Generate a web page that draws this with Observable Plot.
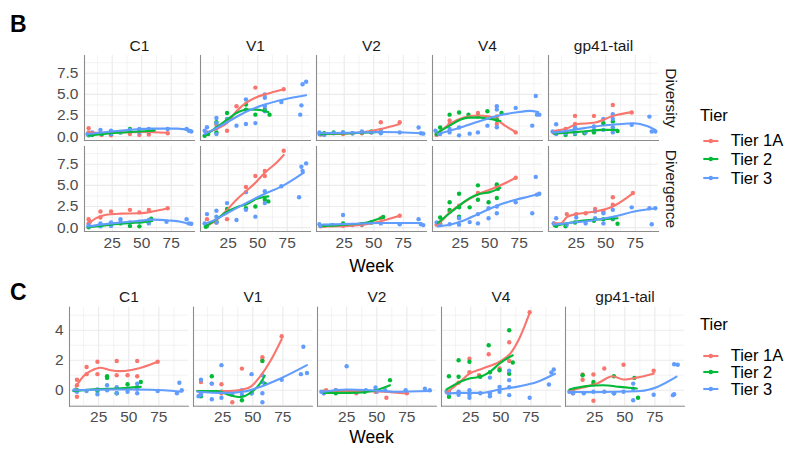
<!DOCTYPE html>
<html><head><meta charset="utf-8">
<script src="https://cdn.jsdelivr.net/npm/d3@7"></script>
<script src="https://cdn.jsdelivr.net/npm/@observablehq/plot@0.6"></script>
<style>
body{margin:0;background:#fff;font-family:"Liberation Sans",Arial,Helvetica,sans-serif;}
#root{position:relative;width:788px;height:449px;overflow:hidden;background:#fff;}
.abs{position:absolute;white-space:nowrap;}
.letter{font-weight:bold;font-size:23px;line-height:26px;color:#000;}
.xtitle{font-size:17.5px;line-height:20px;color:#000;transform:translateX(-50%);}
.ltitle{font-size:16.5px;line-height:18px;color:#000;}
.ltext{font-size:16.5px;line-height:18px;color:#000;}
svg.plot{position:absolute;left:0;}
</style></head>
<body><div id="root"></div>
<script>
const regions = ["C1","V1","V2","V4","gp41-tail"];
const measures = ["Diversity","Divergence"];
const tiers = ["Tier 1A","Tier 2","Tier 3"];
const tierColors = ["#F8766D","#00BA38","#619CFF"];
const xTicks = [25,50,75];
const xMinor = [12.5,37.5,62.5,87.5];
const yTicksB = [0,2.5,5,7.5];
const yMinorB = [1.25,3.75,6.25,8.75];
const yTicksC = [0,2,4];
const yMinorC = [-1,1,3,5];
const G = "gp41-tail";

// ---- Panel B: Diversity points ----
const divPtsT1A = [
 ["C1",5,1.0],["C1",5,0.5],["C1",16,0.2],["C1",24,0.15],["C1",40,0.3],["C1",48,0.2],["C1",56,0.25],["C1",72,0.4],
 ["V1",7,0.5],["V1",15,1.4],["V1",24,0.7],["V1",32,3.6],["V1",48,5.8],["V1",72,5.6],
 ["V2",5,0.25],["V2",8,0.3],["V2",24,0.3],["V2",40,0.4],["V2",48,0.5],["V2",56,1.7],["V2",72,1.7],
 ["V4",5,0.2],["V4",8,0.4],["V4",16,1.9],["V4",16,1.5],["V4",40,2.8],["V4",56,2.4],["V4",56,1.5],["V4",72,0.5],
 [G,6,0.5],[G,16,0.9],[G,24,2.45],[G,24,1.5],[G,40,2.45],[G,48,1.5],[G,56,3.75],[G,72,2.85]
];
const divPtsT2 = [
 ["C1",5,0.15],["C1",8,0.2],["C1",16,0.3],["C1",24,0.3],["C1",32,0.5],["C1",40,0.9],["C1",48,0.6],["C1",56,0.6],["C1",60,0.7],
 ["V1",5,0.1],["V1",8,0.3],["V1",15,0.5],["V1",15,1.7],["V1",24,2.8],["V1",40,3.8],["V1",40,3.2],["V1",48,2.6],["V1",56,3.2],["V1",60,2.6],
 ["V2",5,0.3],["V2",8,0.4],["V2",16,0.5],["V2",24,0.5],["V2",32,0.4],["V2",40,0.5],["V2",48,0.6],["V2",56,0.5],
 ["V4",5,0.3],["V4",8,1.07],["V4",16,2.6],["V4",24,2.85],["V4",32,2.6],["V4",40,2.4],["V4",48,3.0],["V4",56,2.0],["V4",60,2.8],
 [G,8,0.4],[G,16,0.2],[G,24,0.3],[G,24,1.0],[G,32,0.4],[G,40,0.5],[G,48,1.6],[G,56,1.8],[G,60,0.67]
];
const divPtsT3 = [
 ["C1",4,0.3],["C1",5,0.2],["C1",8,0.5],["C1",15,0.4],["C1",15,0.8],["C1",24,0.7],["C1",24,0.3],["C1",32,0.5],["C1",40,0.8],["C1",48,0.9],["C1",48,0.5],["C1",56,0.9],["C1",56,0.6],["C1",72,0.9],["C1",88,0.9],["C1",90,0.7],["C1",92,0.6],
 ["V1",5,0.7],["V1",7,1.1],["V1",15,2.2],["V1",15,1.6],["V1",15,1.0],["V1",15,0.3],["V1",24,2.1],["V1",32,1.3],["V1",40,4.4],["V1",40,1.5],["V1",48,1.6],["V1",56,5.0],["V1",56,4.6],["V1",56,3.6],["V1",56,3.0],["V1",70,4.1],["V1",86,2.6],["V1",87,3.7],["V1",88,6.2],["V1",91,6.5],
 ["V2",4,0.5],["V2",4,0.3],["V2",8,0.2],["V2",16,0.4],["V2",24,0.5],["V2",32,0.4],["V2",40,0.6],["V2",48,0.5],["V2",56,0.8],["V2",56,0.4],["V2",72,0.5],["V2",88,1.07],["V2",90,0.4],["V2",92,0.35],
 ["V4",4,0.7],["V4",8,0.3],["V4",16,0.5],["V4",16,0.9],["V4",24,0.15],["V4",24,1.07],["V4",33,0.35],["V4",40,0.5],["V4",48,1.3],["V4",56,3.6],["V4",56,3.2],["V4",56,1.1],["V4",72,3.4],["V4",86,1.3],["V4",89,4.8],["V4",90,2.6],["V4",92,2.6],
 [G,5,0.6],[G,8,1.46],[G,8,0.3],[G,16,0.4],[G,24,1.07],[G,24,0.4],[G,33,0.5],[G,40,0.8],[G,40,1.2],[G,48,2.1],[G,48,0.8],[G,56,2.65],[G,56,2.1],[G,56,1.1],[G,56,0.5],[G,72,1.4],[G,87,2.37],[G,89,0.6],[G,92,0.6]
];
// ---- Panel B: Diversity smooth curves ----
const divFitT1A = [
 ["C1",5,0.55],["C1",12,0.45],["C1",30,0.5],["C1",50,0.55],["C1",72,0.45],
 ["V1",7,0.5],["V1",15,0.9],["V1",24,1.6],["V1",32,3.0],["V1",40,4.0],["V1",48,4.6],["V1",56,5.0],["V1",64,5.3],["V1",72,5.6],
 ["V2",5,0.3],["V2",24,0.35],["V2",40,0.5],["V2",56,0.9],["V2",72,1.5],
 ["V4",6,0.3],["V4",16,1.5],["V4",28,2.25],["V4",40,2.5],["V4",49,2.4],["V4",57,1.9],["V4",64,1.2],["V4",72,0.55],
 [G,6,0.67],[G,17,0.95],[G,25,1.46],[G,41,1.66],[G,56,2.45],[G,72,2.9]
];
const divFitT2 = [
 ["C1",5,0.15],["C1",20,0.35],["C1",40,0.55],["C1",60,0.7],
 ["V1",5,0.1],["V1",15,1.1],["V1",24,2.0],["V1",32,2.8],["V1",41,3.2],["V1",49,3.2],["V1",59,2.9],
 ["V2",5,0.3],["V2",30,0.4],["V2",57,0.55],
 ["V4",6,0.5],["V4",16,1.3],["V4",25,2.0],["V4",32,2.25],["V4",42,2.25],["V4",50,2.1],["V4",59,1.85],
 [G,6,0.35],[G,17,0.47],[G,31,0.6],[G,48,0.8],[G,60,0.8]
];
const divFitT3 = [
 ["C1",4,0.3],["C1",20,0.55],["C1",40,0.8],["C1",60,0.95],["C1",80,0.95],["C1",92,0.75],
 ["V1",5,0.3],["V1",15,1.0],["V1",24,1.7],["V1",41,3.0],["V1",56,3.8],["V1",72,4.4],["V1",91,4.9],
 ["V2",4,0.4],["V2",30,0.45],["V2",56,0.55],["V2",92,0.4],
 ["V4",6,0.3],["V4",16,0.7],["V4",28,1.2],["V4",40,1.75],["V4",56,2.45],["V4",72,2.85],["V4",84,3.05],["V4",91,2.9],
 [G,6,0.47],[G,23,0.8],[G,41,1.2],[G,60,1.46],[G,74,1.58],[G,85,1.26],[G,92,0.8]
];
// ---- Panel B: Divergence points ----
const dvgPtsT1A = [
 ["C1",5,1.0],["C1",5,0.5],["C1",6,0.7],["C1",15,1.9],["C1",15,1.2],["C1",24,1.9],["C1",40,2.1],["C1",48,1.8],["C1",56,2.1],["C1",72,2.3],
 ["V1",7,1.0],["V1",15,0.6],["V1",24,1.0],["V1",40,4.8],["V1",48,6.1],["V1",56,6.7],["V1",56,6.1],["V1",72,9.1],
 ["V2",5,0.15],["V2",8,0.2],["V2",24,0.2],["V2",40,0.3],["V2",56,1.1],["V2",72,1.4],
 ["V4",5,0.35],["V4",8,0.3],["V4",16,1.9],["V4",24,2.6],["V4",40,4.1],["V4",56,4.9],["V4",72,5.9],
 [G,6,0.5],[G,8,0.3],[G,17,1.6],[G,25,1.6],[G,33,1.7],[G,41,2.2],[G,48,1.9],[G,56,3.6],[G,56,2.7],[G,73,4.1]
];
const dvgPtsT2 = [
 ["C1",5,0.05],["C1",15,0.2],["C1",24,0.35],["C1",32,0.5],["C1",40,0.2],["C1",48,0.15],["C1",56,0.6],["C1",58,1.05],
 ["V1",6,0.1],["V1",7,0.2],["V1",15,0.7],["V1",24,2.2],["V1",40,2.3],["V1",48,2.5],["V1",56,3.3],["V1",59,3.1],
 ["V2",5,0.2],["V2",15,0.3],["V2",24,0.5],["V2",40,0.4],["V2",48,0.6],["V2",58,1.25],
 ["V4",8,1.2],["V4",8,0.5],["V4",16,3.0],["V4",16,2.1],["V4",24,4.0],["V4",24,2.4],["V4",24,1.3],["V4",33,2.4],["V4",40,5.0],["V4",40,3.3],["V4",49,3.0],["V4",56,5.1],["V4",57,4.6],["V4",56,3.5],
 [G,8,0.2],[G,16,0.15],[G,24,0.6],[G,40,0.8],[G,48,1.0],[G,56,1.0],[G,60,0.45]
];
const dvgPtsT3 = [
 ["C1",5,0.15],["C1",5,0.3],["C1",15,0.5],["C1",15,0.15],["C1",24,0.6],["C1",24,0.2],["C1",32,0.6],["C1",32,1.0],["C1",40,0.6],["C1",48,0.7],["C1",56,0.9],["C1",56,0.5],["C1",71,0.7],["C1",88,1.0],["C1",90,0.5],["C1",92,0.45],
 ["V1",5,0.5],["V1",7,1.6],["V1",15,2.0],["V1",15,1.3],["V1",15,0.6],["V1",24,2.9],["V1",32,0.9],["V1",40,4.2],["V1",40,2.1],["V1",48,1.3],["V1",56,4.3],["V1",56,2.9],["V1",70,4.9],["V1",85,3.6],["V1",87,7.2],["V1",88,6.7],["V1",91,7.6],
 ["V2",4,0.4],["V2",5,0.2],["V2",15,0.3],["V2",24,1.5],["V2",32,0.3],["V2",40,0.4],["V2",48,0.6],["V2",56,0.5],["V2",72,0.4],["V2",88,1.0],["V2",90,0.4],["V2",92,0.3],
 ["V4",5,0.6],["V4",8,0.35],["V4",16,0.4],["V4",24,1.1],["V4",24,0.35],["V4",33,0.65],["V4",40,1.6],["V4",40,0.5],["V4",49,2.3],["V4",49,1.1],["V4",56,2.5],["V4",56,1.7],["V4",72,3.0],["V4",86,1.7],["V4",89,6.0],["V4",90,3.9],["V4",92,4.0],
 [G,6,0.5],[G,8,1.1],[G,17,0.35],[G,25,1.2],[G,33,0.5],[G,41,1.9],[G,41,1.1],[G,48,1.7],[G,48,0.5],[G,56,2.1],[G,56,1.1],[G,72,2.4],[G,87,2.3],[G,89,0.4],[G,92,2.3]
];
// ---- Panel B: Divergence smooth curves ----
const dvgFitT1A = [
 ["C1",6,0.6],["C1",11,1.1],["C1",19,1.5],["C1",32,1.65],["C1",48,1.7],["C1",59,1.9],["C1",72,2.3],
 ["V1",7,0.2],["V1",15,0.9],["V1",24,2.1],["V1",32,3.3],["V1",40,4.3],["V1",48,5.3],["V1",56,6.5],["V1",66,7.7],["V1",72,8.6],
 ["V2",7,0.15],["V2",27,0.2],["V2",44,0.4],["V2",56,0.75],["V2",72,1.4],
 ["V4",6,0.3],["V4",12,1.2],["V4",17,1.9],["V4",25,2.7],["V4",33,3.4],["V4",41,4.0],["V4",56,4.8],["V4",72,5.9],
 [G,6,0.5],[G,12,0.5],[G,17,1.25],[G,25,1.6],[G,41,1.9],[G,56,2.5],[G,73,4.05]
];
const dvgFitT2 = [
 ["C1",5,0.05],["C1",15,0.2],["C1",32,0.45],["C1",48,0.6],["C1",59,0.8],
 ["V1",6,0.15],["V1",15,1.0],["V1",24,1.9],["V1",32,2.4],["V1",41,2.8],["V1",49,3.4],["V1",59,3.7],
 ["V2",7,0.2],["V2",27,0.35],["V2",44,0.6],["V2",58,1.25],
 ["V4",6,0.55],["V4",16,1.7],["V4",25,2.7],["V4",33,3.5],["V4",42,4.0],["V4",50,4.2],["V4",59,4.7],
 [G,6,0.2],[G,17,0.5],[G,31,0.85],[G,48,1.0],[G,60,1.1]
];
const dvgFitT3 = [
 ["C1",5,0.15],["C1",15,0.35],["C1",32,0.6],["C1",48,0.8],["C1",60,0.95],["C1",73,0.85],["C1",83,0.7],["C1",92,0.35],
 ["V1",6,0.5],["V1",15,1.0],["V1",24,1.7],["V1",40,2.9],["V1",56,4.0],["V1",72,5.0],["V1",89,6.5],
 ["V2",7,0.35],["V2",32,0.45],["V2",55,0.55],["V2",90,0.55],
 ["V4",6,0.15],["V4",16,0.35],["V4",28,0.85],["V4",40,1.6],["V4",56,2.6],["V4",72,3.3],["V4",84,3.7],["V4",92,4.0],
 [G,6,0.35],[G,23,0.6],[G,41,0.9],[G,60,1.4],[G,74,1.9],[G,92,2.3]
];
// ---- Panel C points ----
const cPtsT1A = [
 ["C1",7,0.7],["C1",7,0.33],["C1",7,-0.44],["C1",15,1.55],["C1",15,1.07],["C1",24,1.9],["C1",24,1.07],["C1",40,1.95],["C1",40,1.0],["C1",49,1.0],["C1",57,1.95],["C1",57,0.93],["C1",74,1.9],
 ["V1",7,0.55],["V1",7,-0.2],["V1",16,0.44],["V1",24,0.4],["V1",24,-0.2],["V1",33,-0.8],["V1",41,1.44],["V1",58,2.2],["V1",58,2.0],["V1",74,3.6],
 ["V2",6,-0.2],["V2",8,0],["V2",16,0],["V2",33,-0.2],["V2",49,-0.1],["V2",58,-0.5],["V2",75,-0.2],
 ["V4",7,-0.1],["V4",15,0.5],["V4",24,2.1],["V4",24,1.2],["V4",32,1.0],["V4",40,2.4],["V4",49,1.45],["V4",57,3.2],["V4",57,1.95],["V4",74,5.2],
 [G,7,-0.2],[G,15,1.05],[G,15,0.7],[G,24,1.05],[G,24,-0.7],[G,33,1.45],[G,49,1.7],[G,74,1.3]
];
const cPtsT2 = [
 ["C1",7,0.0],["C1",24,-0.05],["C1",32,0.93],["C1",32,0.82],["C1",40,-0.2],["C1",49,0.4],["C1",57,0.2],["C1",60,0.55],
 ["V1",7,-0.4],["V1",16,0.93],["V1",24,-0.1],["V1",41,-0.67],["V1",49,-0.2],["V1",58,1.95],["V1",60,0.44],
 ["V2",6,-0.1],["V2",16,-0.2],["V2",24,-0.1],["V2",40,-0.1],["V2",49,0],["V2",61,0.67],
 ["V4",7,0.93],["V4",7,-0.44],["V4",15,2.0],["V4",15,0.9],["V4",24,1.9],["V4",33,0.9],["V4",40,3.0],["V4",41,1.2],["V4",49,1.33],["V4",57,4.0],["V4",57,1.1],["V4",60,1.85],
 [G,7,-0.1],[G,15,1.0],[G,24,0.55],[G,24,0.4],[G,41,0.93],[G,41,-0.2],[G,58,0.82],[G,61,-0.5]
];
const cPtsT3 = [
 ["C1",5,0],["C1",7,-0.1],["C1",15,-0.05],["C1",24,-0.27],["C1",24,0.05],["C1",32,0.33],["C1",32,0],["C1",40,0.2],["C1",40,-0.2],["C1",49,0.1],["C1",49,-0.1],["C1",57,0.44],["C1",57,0.1],["C1",57,-0.2],["C1",74,-0.05],["C1",90,-0.2],["C1",92,0.5],["C1",94,0],
 ["V1",5,-0.4],["V1",7,0.7],["V1",7,-0.3],["V1",16,0.44],["V1",16,-0.6],["V1",24,1.67],["V1",24,-0.5],["V1",33,-0.3],["V1",41,-0.3],["V1",41,0],["V1",49,1.07],["V1",49,-0.2],["V1",58,1.0],["V1",58,0.55],["V1",58,-0.2],["V1",58,-0.8],["V1",74,0.7],["V1",90,1.07],["V1",92,2.9],["V1",95,1.15],
 ["V2",4,-0.1],["V2",6,-0.2],["V2",16,0],["V2",25,1.6],["V2",33,-0.1],["V2",41,0],["V2",49,0.18],["V2",50,-0.1],["V2",57,0],["V2",74,0],["V2",90,0.1],["V2",94,0],
 ["V4",5,-0.1],["V4",7,-0.2],["V4",15,-0.1],["V4",15,-0.3],["V4",24,0],["V4",24,-0.3],["V4",24,-0.5],["V4",33,-0.2],["V4",41,0.84],["V4",41,-0.2],["V4",41,-0.4],["V4",49,0.22],["V4",49,-0.1],["V4",57,1.3],["V4",57,0.67],["V4",57,0.2],["V4",57,-0.33],["V4",74,-0.5],["V4",90,0.38],["V4",92,1.18],["V4",94,1.38],
 [G,4,-0.1],[G,7,-0.2],[G,16,-0.2],[G,24,-0.1],[G,33,-0.1],[G,41,-0.2],[G,49,-0.1],[G,57,0.44],[G,57,0.1],[G,57,-0.67],[G,74,-0.3],[G,90,-0.33],[G,91,-0.27],[G,91,1.73],[G,94,1.7]
];
// ---- Panel C smooth curves ----
const cFitT1A = [
 ["C1",6,0.22],["C1",12,0.9],["C1",21,1.38],["C1",26,1.5],["C1",35,1.33],["C1",43,1.27],["C1",51,1.33],["C1",62,1.55],["C1",74,1.9],
 ["V1",4,-0.05],["V1",18,-0.05],["V1",31,-0.05],["V1",42,0.05],["V1",49,0.27],["V1",56,0.9],["V1",65,2.0],["V1",74,3.4],
 ["V2",6,-0.05],["V2",34,-0.05],["V2",56,-0.1],["V2",75,-0.22],
 ["V4",5,-0.18],["V4",16,0.55],["V4",24,1.1],["V4",35,1.45],["V4",49,1.9],["V4",58,2.45],["V4",66,3.55],["V4",74,5.15],
 [G,4,-0.05],[G,15,0.18],[G,27,0.44],[G,40,0.93],[G,49,0.71],[G,60,0.84],[G,74,1.1]
];
const cFitT2 = [
 ["C1",4,-0.05],["C1",24,0.07],["C1",40,0.11],["C1",60,0.22],
 ["V1",4,-0.05],["V1",20,-0.05],["V1",31,-0.33],["V1",40,-0.45],["V1",48,-0.18],["V1",56,0.44],["V1",60,0.96],
 ["V2",6,-0.18],["V2",28,-0.18],["V2",47,-0.05],["V2",61,0.33],
 ["V4",5,0.05],["V4",16,0.55],["V4",24,0.78],["V4",33,0.9],["V4",41,1.22],["V4",49,1.78],["V4",60,2.33],
 [G,4,0.05],[G,18,0.27],[G,32,0.33],[G,46,0.22],[G,60,0.11]
];
const cFitT3 = [
 ["C1",4,0],["C1",32,0.05],["C1",57,0.05],["C1",79,0],["C1",94,-0.1],
 ["V1",4,-0.1],["V1",26,-0.18],["V1",42,-0.1],["V1",56,0.22],["V1",73,0.78],["V1",95,1.67],
 ["V2",6,-0.1],["V2",25,0.05],["V2",45,0],["V2",64,-0.1],["V2",95,-0.05],
 ["V4",5,-0.22],["V4",16,-0.18],["V4",33,-0.18],["V4",49,0.05],["V4",66,0.27],["V4",80,0.55],["V4",95,1.1],
 [G,4,-0.1],[G,24,-0.13],[G,43,-0.1],[G,63,-0.05],[G,77,0.22],[G,93,0.9]
];

// ---------- build tables ----------
const rows = (arr, tier, measure) => arr.map(([region, week, value]) => ({region, week, value, tier, measure}));
const bPoints = [
  ...rows(divPtsT1A, tiers[0], measures[0]), ...rows(divPtsT2, tiers[1], measures[0]), ...rows(divPtsT3, tiers[2], measures[0]),
  ...rows(dvgPtsT1A, tiers[0], measures[1]), ...rows(dvgPtsT2, tiers[1], measures[1]), ...rows(dvgPtsT3, tiers[2], measures[1])
];
const bFits = [
  ...rows(divFitT1A, tiers[0], measures[0]), ...rows(divFitT2, tiers[1], measures[0]), ...rows(divFitT3, tiers[2], measures[0]),
  ...rows(dvgFitT1A, tiers[0], measures[1]), ...rows(dvgFitT2, tiers[1], measures[1]), ...rows(dvgFitT3, tiers[2], measures[1])
];
const cPoints = [...rows(cPtsT1A, tiers[0]), ...rows(cPtsT2, tiers[1]), ...rows(cPtsT3, tiers[2])];
const cFits = [...rows(cFitT1A, tiers[0]), ...rows(cFitT2, tiers[1]), ...rows(cFitT3, tiers[2])];

const FONT = '"Liberation Sans", Arial, Helvetica, sans-serif';
const gridColor = "#EBEBEB";
const axisLineColor = "#8C8C8C";

function commonMarks(yTicks, yMinor, yFmt) {
  return [
    Plot.gridX({ticks: xMinor, stroke: gridColor, strokeOpacity: 1, strokeWidth: 0.6}),
    Plot.gridY({ticks: yMinor, stroke: gridColor, strokeOpacity: 1, strokeWidth: 0.6}),
    Plot.gridX({ticks: xTicks, stroke: gridColor, strokeOpacity: 1, strokeWidth: 1.15}),
    Plot.gridY({ticks: yTicks, stroke: gridColor, strokeOpacity: 1, strokeWidth: 1.15}),
    Plot.frame({anchor: "left", stroke: axisLineColor, strokeWidth: 1.1}),
    Plot.frame({anchor: "bottom", stroke: axisLineColor, strokeWidth: 1.1}),
    Plot.axisY({ticks: yTicks, tickFormat: yFmt, tickSize: 0, tickPadding: 6, fontSize: 15.5, color: "#4D4D4D", label: null}),
    Plot.axisX({ticks: xTicks, tickSize: 0, tickPadding: 5, fontSize: 15.5, color: "#4D4D4D", label: null}),
    Plot.axisFx({anchor: "top", tickSize: 0, tickPadding: 5, fontSize: 15.5, color: "#1A1A1A", label: null})
  ];
}

const plotB = Plot.plot({
  width: 788, height: 252,
  marginTop: 55, marginBottom: 20.5, marginLeft: 83, marginRight: 788 - 658.2,
  style: {fontFamily: FONT, fontSize: "15.5px", background: "transparent"},
  x: {domain: [1.5, 94.7], axis: null},
  y: {domain: [-0.46, 9.6], axis: null},
  fx: {domain: regions, paddingInner: 0.054, paddingOuter: 0, axis: null},
  fy: {domain: measures, paddingInner: 0.071, paddingOuter: 0, axis: null},
  color: {domain: tiers, range: tierColors},
  marks: [
    ...commonMarks(yTicksB, yMinorB, d3.format(".1f")),
    Plot.text(measures.map(m => ({region: regions[4], measure: m})), {
      fx: "region", fy: "measure", text: "measure", frameAnchor: "right", rotate: 90, dx: 12,
      textAnchor: "middle", fontSize: 15.5, fill: "#1A1A1A"}),
    Plot.dot(bPoints, {x: "week", y: "value", fx: "region", fy: "measure", fill: "tier", r: 2.2}),
    Plot.line(bFits, {x: "week", y: "value", fx: "region", fy: "measure", stroke: "tier", z: "tier", strokeWidth: 2.1, curve: "monotone-x"})
  ]
});
plotB.classList.add("plot");
plotB.style.top = "0px";

const plotC = Plot.plot({
  width: 788, height: 145,
  marginTop: 26.75, marginBottom: 19.25, marginLeft: 68.3, marginRight: 788 - 683.3,
  style: {fontFamily: FONT, fontSize: "15.5px", background: "transparent"},
  x: {domain: [0.8, 99.6], axis: null},
  y: {domain: [-1.07, 5.53], axis: null},
  fx: {domain: regions, paddingInner: 0.044, paddingOuter: 0, axis: null},
  color: {domain: tiers, range: tierColors},
  marks: [
    ...commonMarks(yTicksC, yMinorC, d3.format("d")),
    Plot.dot(cPoints, {x: "week", y: "value", fx: "region", fill: "tier", r: 2.2}),
    Plot.line(cFits, {x: "week", y: "value", fx: "region", stroke: "tier", z: "tier", strokeWidth: 2.1, curve: "monotone-x"})
  ]
});
plotC.classList.add("plot");
plotC.style.top = "280px";

const root = document.getElementById("root");
root.appendChild(plotB);
root.appendChild(plotC);

function addText(cls, txt, left, top) {
  const d = document.createElement("div");
  d.className = "abs " + cls;
  d.textContent = txt;
  d.style.left = left + "px";
  d.style.top = top + "px";
  root.appendChild(d);
}
addText("letter", "B", 10, 10.7);
addText("letter", "C", 10, 279);
addText("xtitle", "Week", 371.5, 255.5);
addText("xtitle", "Week", 371.5, 426.8);

function legend(titleTop, keyCenters) {
  addText("ltitle", "Tier", 700, titleTop);
  tiers.forEach((t, i) => {
    const cy = keyCenters[i];
    const ns = "http://www.w3.org/2000/svg";
    const s = document.createElementNS(ns, "svg");
    s.setAttribute("width", 20); s.setAttribute("height", 10);
    s.style.position = "absolute"; s.style.left = "701px"; s.style.top = (cy - 5) + "px";
    const l = document.createElementNS(ns, "line");
    l.setAttribute("x1", 2.3); l.setAttribute("x2", 17.3); l.setAttribute("y1", 5); l.setAttribute("y2", 5);
    l.setAttribute("stroke", tierColors[i]); l.setAttribute("stroke-width", 2.1);
    const c = document.createElementNS(ns, "circle");
    c.setAttribute("cx", 9.8); c.setAttribute("cy", 5); c.setAttribute("r", 2.2); c.setAttribute("fill", tierColors[i]);
    s.appendChild(l); s.appendChild(c);
    root.appendChild(s);
    addText("ltext", t, 730.7, cy - 9.3);
  });
}
legend(105.9, [140.7, 159.4, 178.2]);
legend(315.2, [355.7, 372.4, 389]);
</script>
</body></html>
